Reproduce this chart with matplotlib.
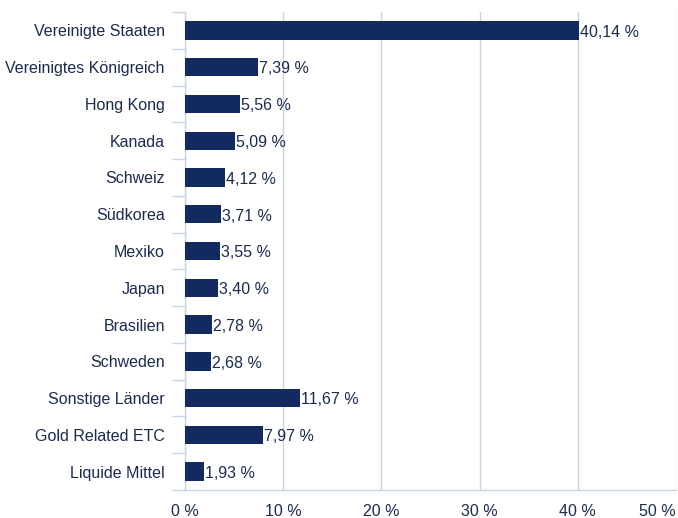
import matplotlib
matplotlib.use("Agg")
import matplotlib.pyplot as plt
from matplotlib.ticker import FixedLocator

categories = ["Vereinigte Staaten", "Vereinigtes Königreich", "Hong Kong", "Kanada",
              "Schweiz", "Südkorea", "Mexiko", "Japan", "Brasilien", "Schweden",
              "Sonstige Länder", "Gold Related ETC", "Liquide Mittel"]
values = [40.14, 7.39, 5.56, 5.09, 4.12, 3.71, 3.55, 3.40, 2.78, 2.68, 11.67, 7.97, 1.93]
xticks = [0, 10, 20, 30, 40, 50]
xtick_labels = ["0 %", "10 %", "20 %", "30 %", "40 %", "50 %"]

bar_color = "#122a60"
text_color = "#1c2a4f"
grid_color = "#c8d5e8"
fs = 11.5

plt.rcParams['font.family'] = ['Liberation Sans', 'DejaVu Sans']

fig = plt.figure(figsize=(6.78, 5.18), dpi=100)
ax = fig.add_axes([185/678, 28/518, 491/678, 478/518])

n = len(categories)
ypos = list(range(n))
ax.barh(ypos, values, height=0.5, color=bar_color, zorder=3)
for y, v in zip(ypos, values):
    ax.text(v + 0.1, y + 0.05, f"{v:.2f} %".replace(".", ","), va="center", ha="left",
            fontsize=fs, color=text_color, zorder=4)

ax.set_xlim(0, 50)
ax.set_ylim(n - 0.5, -0.5)
ax.set_xticks(xticks)
ax.set_xticklabels(xtick_labels, fontsize=fs, color=text_color)
ax.get_xticklabels()[-1].set_horizontalalignment("right")
ax.get_xticklabels()[-1].set_x(50)
ax.set_yticks(ypos)
ax.set_yticklabels(categories, fontsize=fs, color=text_color)
ax.yaxis.set_minor_locator(FixedLocator([i - 0.5 for i in range(n + 1)]))
ax.tick_params(axis="y", which="major", length=0, pad=14.5)
ax.tick_params(axis="y", which="minor", length=9.5, width=1, color=grid_color, direction="out")
ax.tick_params(axis="x", which="major", length=0, pad=10)

ax.grid(axis="x", color=grid_color, linewidth=1, zorder=0)
for s in ["top", "right"]:
    ax.spines[s].set_visible(False)
for s in ["left", "bottom"]:
    ax.spines[s].set_color(grid_color)
    ax.spines[s].set_linewidth(1)

fig.savefig("out.png", dpi=100)
